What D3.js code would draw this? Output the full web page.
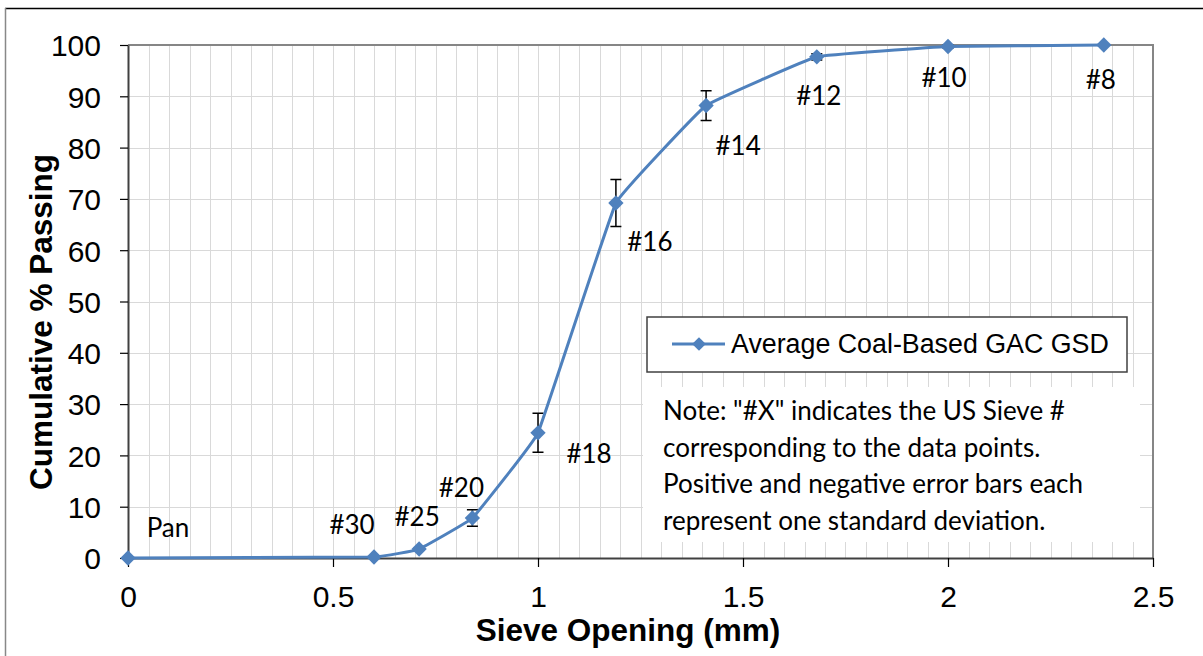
<!DOCTYPE html>
<html>
<head>
<meta charset="utf-8">
<script src="https://cdn.jsdelivr.net/npm/d3@7"></script>
<style>
  body { margin: 0; background: #fff; }
  svg { display: block; }
  .tick text { font-family: "Liberation Sans", Arial, sans-serif; font-size: 30px; fill: #000; }
  .lbl { font-family: Lato, "Open Sans", sans-serif; font-size: 26px; fill: #000; }
</style>
</head>
<body>
<svg id="chart"></svg>
<script>
// sieve data (mm opening vs cumulative % passing)
const sieves  = ["Pan", "#30", "#25", "#20", "#18", "#16", "#14", "#12", "#10", "#8"];
const opening = [0, 0.6, 0.71, 0.84, 1.0, 1.19, 1.41, 1.68, 2.0, 2.38];
const passing = [0, 0.2, 1.75, 7.8, 24.4, 69.2, 88.2, 97.7, 99.7, 100];
const stdev   = [0, 0, 0.2, 1.6, 3.8, 4.6, 2.9, 0.6, 0.3, 0];

const xTicks = [0, 0.5, 1, 1.5, 2, 2.5];
const yTicks = [0, 10, 20, 30, 40, 50, 60, 70, 80, 90, 100];

// where each data label sits relative to its point (px)
const labelOffset = [[40, -21], [-22, -23], [-2, -23], [-11, -21], [51, 30],
                     [34, 48], [32, 49], [2, 48], [-4, 40], [-3, 44]];

const noteLines = [
  'Note: "#X" indicates the US Sieve #',
  'corresponding to the data points.',
  'Positive and negative error bars each',
  'represent one standard deviation.'
];

const width = 1203, height = 656;
const margin = {top: 45, right: 50, bottom: 98, left: 128};
const blue = "#4F81BD";

const svg = d3.select("#chart").attr("width", width).attr("height", height);

// outer chart border (clipped on the right/bottom)
svg.append("line").attr("x1", 5).attr("x2", width).attr("y1", 8.5).attr("y2", 8.5)
  .attr("stroke", "#000").attr("stroke-width", 1.5);
svg.append("line").attr("x1", 5.5).attr("x2", 5.5).attr("y1", 8).attr("y2", height)
  .attr("stroke", "#888").attr("stroke-width", 1.5);

const x = d3.scaleLinear().domain([0, 2.5]).range([margin.left, width - margin.right]);
const y = d3.scaleLinear().domain([0, 100]).range([height - margin.bottom, margin.top]);

const data = sieves.map((s, i) => ({name: s, x: opening[i], y: passing[i], e: stdev[i], off: labelOffset[i]}));

// gridlines
const grid = svg.append("g").attr("stroke", "#D9D9D9").attr("stroke-width", 1);
grid.selectAll(".vg").data(d3.range(1, 50).map(i => i * 0.05)).join("line")
  .attr("x1", d => Math.round(x(d)) + 0.5).attr("x2", d => Math.round(x(d)) + 0.5)
  .attr("y1", y(100)).attr("y2", y(0));
grid.selectAll(".hg").data(yTicks.slice(1, -1)).join("line")
  .attr("x1", x(0)).attr("x2", x(2.5))
  .attr("y1", d => Math.round(y(d)) + 0.5).attr("y2", d => Math.round(y(d)) + 0.5);

// plot border top/right
svg.append("path")
  .attr("d", `M${x(0)},${y(100)}H${x(2.5)}V${y(0)}`)
  .attr("fill", "none").attr("stroke", "#868686").attr("stroke-width", 2);

// axes
const yAxis = svg.append("g").attr("transform", `translate(${x(0)},0)`)
  .call(d3.axisLeft(y).tickValues(yTicks).tickSize(8).tickPadding(19).tickSizeOuter(0));
const xAxis = svg.append("g").attr("transform", `translate(0,${y(0)})`)
  .call(d3.axisBottom(x).tickValues(xTicks).tickFormat(d3.format("")).tickSize(9).tickPadding(19).tickSizeOuter(0));
[xAxis, yAxis].forEach(a => {
  a.select(".domain").attr("stroke", "#404040").attr("stroke-width", 2);
  a.selectAll(".tick line").attr("stroke", "#000").attr("stroke-width", 1.2);
});
yAxis.selectAll(".tick text").attr("dy", "0.36em");

// axis titles
svg.append("text")
  .attr("x", 628).attr("y", 641)
  .attr("text-anchor", "middle")
  .style("font-family", '"Liberation Sans", Arial, sans-serif')
  .style("font-weight", "bold").style("font-size", "31.5px")
  .text("Sieve Opening (mm)");
svg.append("text")
  .attr("transform", "translate(52,322) rotate(-90)")
  .attr("text-anchor", "middle")
  .style("font-family", '"Liberation Sans", Arial, sans-serif')
  .style("font-weight", "bold").style("font-size", "31.5px")
  .text("Cumulative % Passing");

// note box (white, covers the grid)
svg.append("rect").attr("x", 643).attr("y", 387).attr("width", 497).attr("height", 155).attr("fill", "#fff");
svg.append("text").attr("class", "lbl")
  .selectAll("tspan").data(noteLines).join("tspan")
  .attr("x", 663).attr("y", (d, i) => 420 + i * 36.7)
  .text(d => d);

// legend
const leg = svg.append("g").attr("transform", "translate(647,317)");
leg.append("rect").attr("width", 480).attr("height", 55)
  .attr("fill", "#fff").attr("stroke", "#404040").attr("stroke-width", 1.5);
leg.append("line").attr("x1", 25).attr("x2", 78).attr("y1", 27).attr("y2", 27)
  .attr("stroke", blue).attr("stroke-width", 3);
leg.append("path").attr("d", d3.symbol(d3.symbolDiamond2, 120)()).attr("transform", "translate(52,27)").attr("fill", blue);
leg.append("text").attr("x", 84).attr("y", 36)
  .style("font-family", '"Liberation Sans", Arial, sans-serif').style("font-size", "26.8px")
  .text("Average Coal-Based GAC GSD");

// error bars
const eb = svg.append("g").attr("stroke", "#000").attr("stroke-width", 1.5).attr("fill", "none");
eb.selectAll("path").data(data.filter(d => d.e > 0)).join("path")
  .attr("d", d => {
    const cx = x(d.x), t = y(d.y + d.e), b = y(d.y - d.e);
    return `M${cx},${t}V${b}M${cx - 5.5},${t}H${cx + 5.5}M${cx - 5.5},${b}H${cx + 5.5}`;
  });

// line + markers
const line = d3.line().x(d => x(d.x)).y(d => y(d.y)).curve(d3.curveCardinal.tension(0.8));
svg.append("path").datum(data).attr("d", line)
  .attr("fill", "none").attr("stroke", blue).attr("stroke-width", 3);
svg.append("g").selectAll("path").data(data).join("path")
  .attr("d", d3.symbol(d3.symbolDiamond2, 150)())
  .attr("transform", d => `translate(${x(d.x)},${y(d.y)})`)
  .attr("fill", blue);

// data labels
svg.append("g").selectAll("text").data(data).join("text")
  .attr("class", "lbl")
  .attr("x", d => x(d.x) + d.off[0]).attr("y", d => y(d.y) + d.off[1])
  .attr("text-anchor", "middle")
  .text(d => d.name);
</script>
</body>
</html>
